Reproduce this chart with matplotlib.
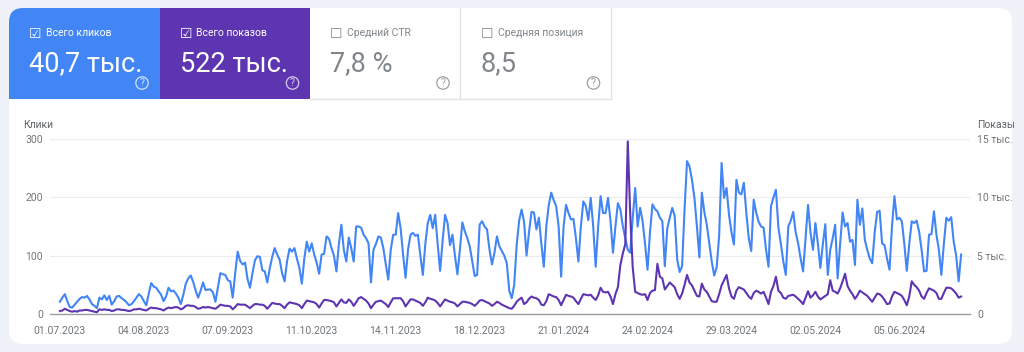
import numpy as np
import pandas as pd
import matplotlib
matplotlib.use('Agg')
import matplotlib.pyplot as plt
from matplotlib.patches import FancyBboxPatch, Rectangle, Circle

plt.rcParams['font.family'] = ['Roboto', 'DejaVu Sans']

# дневные клики (левая ось), с 01.07.2023
clicks = [
    21, 28, 34, 22, 12, 11, 16,
    21, 26, 29, 28, 31, 25, 17,
    14, 10, 28, 25, 32, 24, 31,
    16, 22, 30, 31, 27, 24, 20,
    15, 17, 22, 28, 34, 30, 22,
    15, 35, 53, 47, 45, 39, 33,
    22, 30, 45, 39, 40, 35, 28,
    17, 33, 52, 61, 66, 55, 40,
    28, 40, 54, 41, 42, 42, 37,
    21, 45, 70, 68, 67, 58, 56,
    28, 70, 107, 91, 85, 88, 60,
    45, 70, 92, 99, 98, 75, 73,
    54, 78, 98, 113, 102, 93, 70,
    56, 90, 112, 107, 113, 95, 79,
    52, 95, 124, 107, 121, 102, 88,
    69, 102, 103, 133, 129, 113, 100,
    73, 120, 153, 110, 90, 131, 113,
    90, 150, 150, 148, 136, 130, 121,
    54, 110, 120, 133, 131, 113, 85,
    59, 110, 136, 136, 173, 147, 102,
    62, 110, 136, 139, 134, 136, 100,
    67, 120, 156, 170, 147, 170, 120,
    74, 125, 170, 156, 118, 136, 100,
    68, 110, 157, 142, 130, 116, 90,
    65, 67, 153, 159, 150, 145, 110,
    85, 105, 133, 116, 108, 100, 87,
    40, 27, 50, 118, 160, 179, 158,
    100, 140, 175, 174, 145, 165, 120,
    81, 150, 187, 208, 195, 185, 150,
    64, 150, 187, 173, 162, 163, 130,
    90, 150, 193, 185, 161, 199, 150,
    81, 150, 202, 173, 173, 199, 160,
    105, 150, 190, 179, 150, 130, 110,
    105, 165, 216, 150, 182, 159, 120,
    76, 140, 188, 180, 176, 165, 159,
    82, 147, 165, 182, 168, 94, 72,
    82, 180, 262, 253, 230, 199, 150,
    97, 208, 175, 153, 121, 90, 66,
    80, 134, 259, 199, 216, 170, 140,
    119, 230, 208, 205, 225, 174, 130,
    108, 196, 174, 158, 150, 148, 110,
    81, 185, 200, 213, 148, 120, 90,
    67, 150, 160, 175, 140, 121, 95,
    73, 130, 187, 140, 110, 156, 120,
    79, 120, 154, 67, 110, 130, 153,
    61, 120, 174, 150, 156, 124, 127,
    84, 196, 153, 181, 127, 110, 95,
    87, 140, 175, 177, 121, 118, 95,
    76, 150, 202, 162, 165, 159, 120,
    74, 120, 159, 156, 160, 141, 110,
    73, 74, 136, 137, 176, 136, 110,
    67, 120, 165, 160, 166, 124, 100,
    56, 102,
]

# дневные показы (правая ось)
impressions = [
    250, 300, 450, 350, 250, 200, 250,
    200, 300, 300, 350, 350, 300, 250,
    200, 150, 400, 350, 400, 350, 350,
    250, 300, 400, 400, 350, 350, 300,
    250, 300, 400, 400, 450, 400, 350,
    300, 450, 550, 500, 500, 450, 400,
    300, 450, 550, 500, 550, 600, 550,
    400, 500, 700, 750, 700, 700, 600,
    450, 500, 600, 550, 600, 550, 500,
    450, 600, 800, 750, 700, 700, 650,
    400, 600, 850, 800, 800, 800, 650,
    500, 700, 850, 850, 800, 800, 700,
    450, 700, 950, 900, 850, 850, 700,
    500, 800, 1000, 950, 900, 850, 750,
    500, 850, 1150, 1100, 1050, 1000, 850,
    550, 900, 1200, 1200, 1150, 1100, 1000,
    650, 950, 1250, 1000, 950, 1250, 1050,
    700, 1000, 1350, 1450, 1300, 1150, 900,
    500, 800, 1050, 1100, 1150, 1000, 850,
    600, 1000, 1350, 1350, 1350, 1350, 1100,
    650, 950, 1250, 1250, 1150, 1050, 950,
    700, 1000, 1400, 1300, 1250, 1150, 950,
    650, 950, 1250, 1150, 1050, 1000, 900,
    650, 850, 1050, 1050, 1000, 950, 850,
    700, 900, 1150, 1200, 1100, 1000, 900,
    700, 850, 1050, 950, 800, 700, 600,
    500, 450, 700, 1050, 1250, 1400, 850,
    1000, 1300, 1500, 1400, 1350, 1200, 800,
    750, 1100, 1700, 1600, 1500, 1450, 1200,
    750, 1200, 1650, 1550, 1500, 1400, 1100,
    850, 1300, 1700, 1650, 1600, 1650, 1400,
    1200, 1600, 2250, 1900, 1850, 1900, 1500,
    850, 1700, 2300, 4200, 5200, 6000, 14800,
    8500, 4000, 1900, 1800, 1700, 1650, 1700,
    1200, 1800, 2000, 2050, 4300, 3200, 3050,
    2100, 2400, 2700, 2500, 2300, 1700, 1300,
    1750, 2500, 3350, 2700, 2450, 2000, 1550,
    1500, 2600, 2100, 1900, 1500, 1100, 1050,
    1050, 1700, 2450, 2900, 3350, 2200, 1500,
    1300, 2000, 2300, 2200, 2100, 1800, 1500,
    1300, 1800, 2000, 1900, 1750, 1900, 1400,
    850, 1900, 2400, 3200, 2000, 1800, 1400,
    1300, 1550, 1600, 1650, 1500, 1300, 1100,
    850, 1400, 1950, 1400, 1600, 1900, 1500,
    1250, 1400, 1550, 1700, 2900, 2000, 1900,
    1750, 2200, 2800, 3450, 2400, 2000, 1700,
    1300, 1600, 2000, 1850, 1700, 1550, 1300,
    1050, 1400, 1750, 1700, 1500, 1200, 850,
    900, 1500, 1900, 1800, 1700, 1550, 1200,
    750, 1500, 2800, 2500, 2300, 2000, 1500,
    1300, 1800, 2200, 2100, 2000, 1800, 1300,
    1300, 1800, 2250, 2250, 2200, 2000, 1750,
    1400, 1500,
]

date_labels = ['01.07.2023', '04.08.2023', '07.09.2023', '11.10.2023', '14.11.2023',
               '18.12.2023', '21.01.2024', '24.02.2024', '29.03.2024', '02.05.2024',
               '05.06.2024']
left_ticks = [0, 100, 200, 300]
right_ticks = [0, 5000, 10000, 15000]
right_labels = ['0', '5 тыс.', '10 тыс.', '15 тыс.']

card_titles = ['Всего кликов', 'Всего показов', 'Средний CTR', 'Средняя позиция']
card_values = ['40,7 тыс.', '522 тыс.', '7,8 %', '8,5']
card_checked = [True, True, False, False]

BLUE = '#4285f4'
PURPLE = '#5e35b1'
GREY_TXT = '#80868b'

dates = pd.date_range('2023-07-01', periods=len(clicks), freq='D')

fig = plt.figure(figsize=(10.24, 3.52), dpi=100)
fig.patch.set_facecolor('#eef1f7')

# фон и карточки в пиксельных координатах
bg = fig.add_axes([0, 0, 1, 1])
bg.set_xlim(0, 1024)
bg.set_ylim(352, 0)
bg.axis('off')
bg.add_patch(FancyBboxPatch((9, 8), 1003, 336, boxstyle='round,pad=0,rounding_size=14',
                            fc='white', ec='none'))
bg.add_patch(FancyBboxPatch((9, 8), 151, 91, boxstyle='round,pad=0,rounding_size=14',
                            fc=BLUE, ec='none'))
bg.add_patch(Rectangle((40, 8), 120, 91, fc=BLUE, ec='none'))
bg.add_patch(Rectangle((9, 40), 151, 59, fc=BLUE, ec='none'))
bg.add_patch(Rectangle((160, 8), 150, 91, fc=PURPLE, ec='none'))
bg.plot([460, 460], [8, 99], color='#e3e3e3', lw=1)
bg.plot([611, 611], [8, 99], color='#e3e3e3', lw=1)
bg.plot([310, 611], [99, 99], color='#e3e3e3', lw=1)

for i, (title, val, chk) in enumerate(zip(card_titles, card_values, card_checked)):
    x0 = 9 + 150.5 * i
    col = 'white' if chk else GREY_TXT
    bg.text(x0 + 20, 34, '☑' if chk else '☐', color=col, fontsize=10,
            family=['DejaVu Sans'], va='center', ha='left')
    bg.text(x0 + 37, 33, title, color=col, fontsize=7.5, va='center', ha='left')
    bg.text(x0 + 20, 64, val, color=col, fontsize=19.5, va='center', ha='left')
    ic = (x0 + 133, 83)
    icol = col if chk else '#9aa0a6'
    bg.add_patch(Circle(ic, 6.2, fc='none', ec=icol, lw=0.9, alpha=0.75 if chk else 1))
    bg.text(ic[0], ic[1] + 0.5, '?', color=icol, fontsize=7.5,
            ha='center', va='center', alpha=0.75 if chk else 1)

bg.text(23, 125, 'Клики', color='#5f6368', fontsize=7.5, va='center', ha='left')
bg.text(1015, 125, 'Показы', color='#5f6368', fontsize=7.5, va='center', ha='right')

# график
ax = fig.add_axes([50 / 1024, 38 / 352, 920 / 1024, 175 / 352])
ax.set_facecolor('none')
ax.plot(dates, clicks, color=BLUE, lw=1.5, zorder=3)
ax.set_ylim(0, 300)
ax.set_yticks(left_ticks)
ax.set_xlim(dates[0] - pd.Timedelta(days=4), dates[-1] + pd.Timedelta(days=3.6))
tick_dates = pd.to_datetime(date_labels, format='%d.%m.%Y')
ax.set_xticks(tick_dates)
ax.set_xticklabels(date_labels)
ax.grid(axis='y', color='#ececec', lw=0.8)
ax.set_axisbelow(True)
for s in ['top', 'left', 'right']:
    ax.spines[s].set_visible(False)
ax.spines['bottom'].set_color('#9e9e9e')
ax.spines['bottom'].set_linewidth(1)
ax.tick_params(axis='both', length=0, colors='#70757a', labelsize=7.5)
ax.tick_params(axis='y', pad=5)
ax.tick_params(axis='x', pad=9)

ax2 = ax.twinx()
ax2.plot(dates, impressions, color=PURPLE, lw=1.5, zorder=3)
ax2.set_ylim(0, 15000)
ax2.set_yticks(right_ticks)
ax2.set_yticklabels(right_labels)
for s in ['top', 'left', 'right', 'bottom']:
    ax2.spines[s].set_visible(False)
ax2.tick_params(axis='y', length=0, colors='#70757a', labelsize=7.5, pad=5)

fig.savefig('out.png', dpi=100)
